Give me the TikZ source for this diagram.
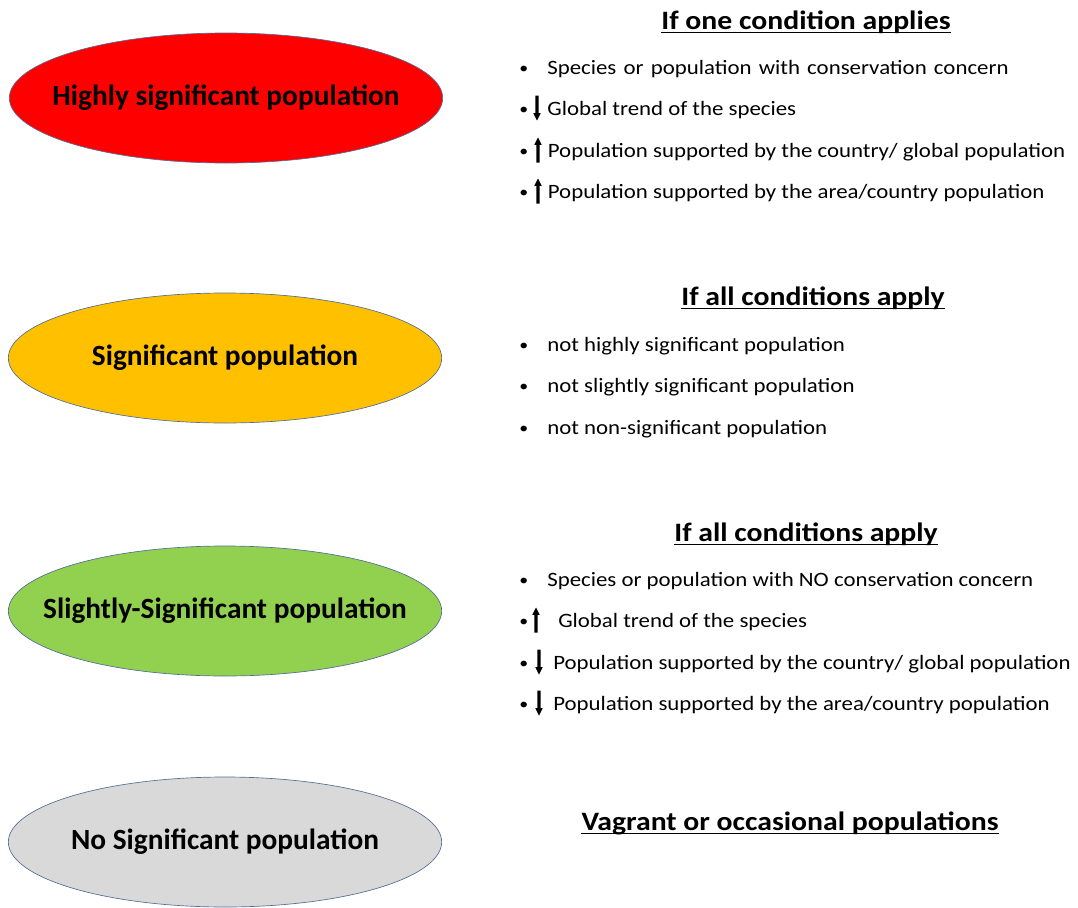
\documentclass[tikz,border=0pt]{standalone}
\usepackage{fontspec}
\setmainfont{Carlito}
\newfontfamily\rside[FakeStretch=1.12]{Carlito}
\usetikzlibrary{shapes.geometric}

\definecolor{hsred}{RGB}{255,0,0}
\definecolor{sorange}{RGB}{255,192,0}
\definecolor{ssgreen}{RGB}{146,208,80}
\definecolor{nsgray}{RGB}{217,217,217}
\definecolor{rim}{RGB}{84,110,150}

% bullet box and block arrows for the trend marks
\newcommand{\blt}[1]{\makebox[#1][l]{\hspace{0.8pt}\fontsize{12}{12}\selectfont\raisebox{0.6pt}{•}}}
\newcommand{\trendup}{\tikz[baseline=0pt]\fill (-1.3pt,-3.75pt) -- (-1.3pt,9.5pt) -- (-2.8pt,9.5pt) -- (0pt,15pt) -- (2.8pt,9.5pt) -- (1.3pt,9.5pt) -- (1.3pt,-3.75pt) -- cycle;}
\newcommand{\trenddown}{\tikz[baseline=0pt]\fill (-1.3pt,15pt) -- (-1.3pt,1.75pt) -- (-2.8pt,1.75pt) -- (0pt,-3.75pt) -- (2.8pt,1.75pt) -- (1.3pt,1.75pt) -- (1.3pt,15pt) -- cycle;}
\newcommand{\lvl}[1]{\makebox[0pt]{#1}}

\begin{document}
\begin{tikzpicture}[x=0.75pt, y=-0.75pt,
    level/.style={ellipse, draw=rim, line width=0.5pt, minimum width=325pt, minimum height=97.5pt, inner sep=0pt, font=\fontsize{22}{26}\selectfont\bfseries},
    head/.style={anchor=base, inner sep=0pt, font=\rside\fontsize{19.9}{23}\selectfont\bfseries},
    uline/.style={line width=1.1pt},
    item/.style={anchor=base west, inner sep=0pt, font=\rside\fontsize{15.3}{18}\selectfont}]
  \useasboundingbox (0,0) rectangle (1078,907);

  \node[level, fill=hsred] (hs) at (226, 98) {\lvl{Highly significant population}};
  \node[level, fill=sorange] (s) at (225, 358) {\lvl{Significant population}};
  \node[level, fill=ssgreen] (ss) at (225, 611) {\lvl{Slightly-Significant population}};
  \node[level, fill=nsgray] (ns) at (225, 842) {\lvl{No Significant population}};

  % highly significant
  \node[head] (h1) at (806, 29) {If one condition applies};
  \node[item] (h1a) at (518, 74.5) {\blt{21.75pt}{\spaceskip=1.4\fontdimen2\font plus 1pt Species or population with conservation concern}};
  \node[item] (h1b) at (518, 115.5) {\blt{11.25pt}\trenddown\hspace{5pt}Global trend of the species};
  \node[item] (h1c) at (518, 157.5) {\blt{12pt}\trendup\hspace{4.6pt}Population supported by the country/ global population};
  \node[item] (h1d) at (518, 198.5) {\blt{12pt}\trendup\hspace{4.6pt}Population supported by the area/country population};

  % significant
  \node[head] (h2) at (813, 305) {If all conditions apply};
  \node[item] (h2a) at (518, 351.5) {\blt{21.75pt}not highly significant population};
  \node[item] (h2b) at (518, 392.5) {\blt{21.75pt}not slightly significant population};
  \node[item] (h2c) at (518, 434.5) {\blt{21.75pt}not non-significant population};

  % slightly significant
  \node[head] (h3) at (806, 541) {If all conditions apply};
  \node[item] (h3a) at (518, 586.5) {\blt{21.75pt}Species or population with NO conservation concern};
  \node[item] (h3b) at (518, 627.5) {\blt{10.5pt}\trendup\hspace{13.9pt}Global trend of the species};
  \node[item] (h3c) at (518, 669.5) {\blt{12.75pt}\trenddown\hspace{7.9pt}Population supported by the country/ global population};
  \node[item] (h3d) at (518, 710.5) {\blt{12.75pt}\trenddown\hspace{7.9pt}Population supported by the area/country population};

  % no significant
  \node[head] (h4) at (790, 830) {Vagrant or occasional populations\ };

  \draw[uline] ([yshift=-2.6pt]h1.base west) -- ([yshift=-2.6pt]h1.base east);
  \draw[uline] ([yshift=-2.6pt]h2.base west) -- ([yshift=-2.6pt]h2.base east);
  \draw[uline] ([yshift=-2.6pt]h3.base west) -- ([yshift=-2.6pt]h3.base east);
  \draw[uline] ([yshift=-2.6pt]h4.base west) -- ([yshift=-2.6pt]h4.base east);
\end{tikzpicture}
\end{document}
